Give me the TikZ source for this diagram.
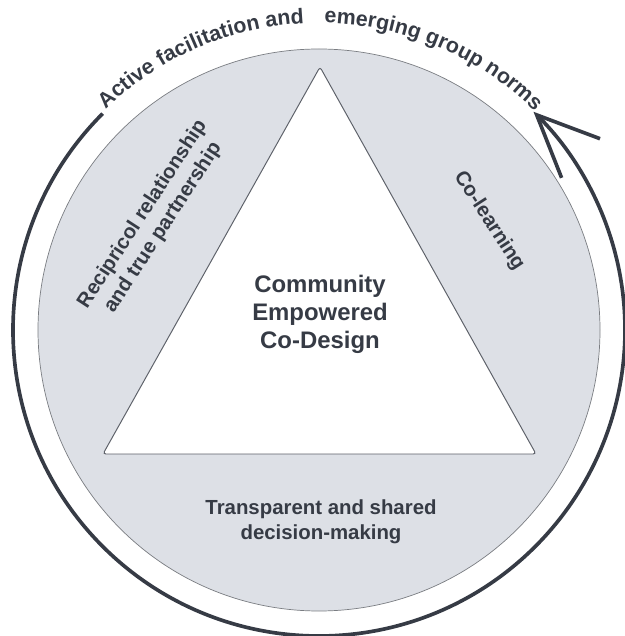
\documentclass[tikz,border=0pt]{standalone}
\usepackage{fontspec}
\setmainfont{Liberation Sans}
\usetikzlibrary{arrows.meta,decorations.text}
\definecolor{ink}{HTML}{363B45}
\definecolor{ringfill}{HTML}{DDE0E6}
\definecolor{ringline}{HTML}{7A7D82}
\tikzset{
  pillar/.style={text=ink, font=\bfseries\fontsize{14.5}{17.5}\selectfont, align=center},
  core/.style={text=ink, font=\bfseries\fontsize{17}{20}\selectfont, align=center},
  cycle/.style={draw=ink, line width=2.6pt, -{Straight Barb[length=44pt,width=39pt,line width=2.6pt]}},
  arctext/.style={decorate, decoration={text along path, text format delimiters={|}{|},
    text={|\bfseries\fontsize{15.2}{18}\selectfont\color{ink}|#1}}},
}
\begin{document}
\begin{tikzpicture}[x=0.025cm,y=0.025cm]
\useasboundingbox (-319,-306) rectangle (305,330);
\filldraw[fill=ringfill, draw=ringline, line width=0.5pt] (0,0) circle[radius=281];
\filldraw[fill=white, draw=ink!80, line width=0.7pt, rounded corners=2pt] (1,263) -- (217,-124) -- (-216,-124) -- cycle;
\node[core] (codesign) at (1,16) {Community\\Empowered\\Co-Design};
\node[pillar] (decision) at (2,-192) {Transparent and shared\\decision-making};
\node[pillar, rotate=57] (reciprocal) at (-166,109) {Recipricol relationship\\and true partnership};
\node[pillar, rotate=-57] (colearning) at (170,109) {Co-learning};
\draw[cycle] (135:306) arc[start angle=135, end angle=405.5, radius=306];
\path[arctext={Active facilitation and}] (134:307) arc[start angle=134, end angle=90.5, radius=307];
\path[arctext={emerging group norms}] (89:307) arc[start angle=89, end angle=44, radius=307];
\end{tikzpicture}
\end{document}
